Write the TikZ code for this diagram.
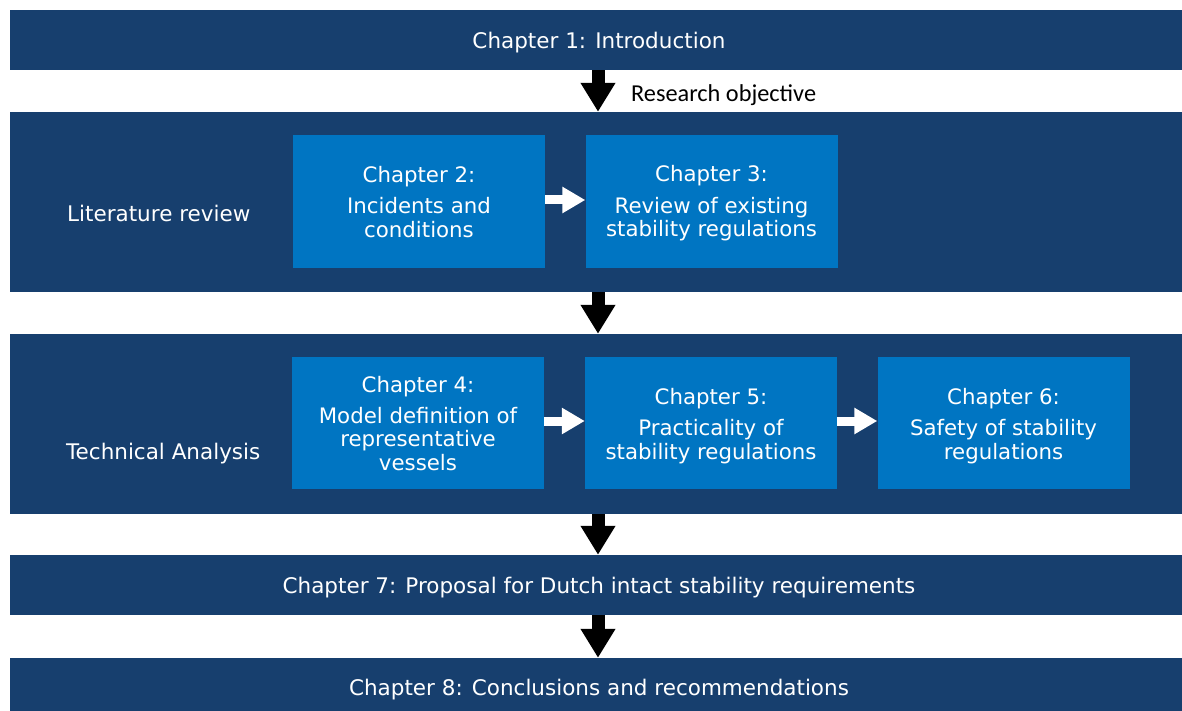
\documentclass[tikz,border=0pt]{standalone}
\usepackage{fontspec}
\setmainfont{DejaVu Sans}
\newfontfamily\calibrifont{Carlito}
\usetikzlibrary{arrows.meta}
\definecolor{banddark}{HTML}{173F6E}
\definecolor{boxblue}{HTML}{0075C2}
\begin{document}
\begin{tikzpicture}[x=1pt,y=-1pt,
  band/.style={fill=banddark, draw=none, minimum width=1172pt, inner sep=0pt,
    text=white, font=\fontsize{21.5}{24}\selectfont},
  chapbox/.style={fill=boxblue, draw=none, minimum width=252pt, minimum height=133pt,
    inner sep=0pt, text=white, align=center, font=\fontsize{21.3}{23.5}\selectfont},
  chaptext/.style={inner sep=0pt, text=white, align=center, font=\fontsize{21.3}{23.5}\selectfont},
  sidelabel/.style={anchor=west, inner sep=0pt, text=white, font=\fontsize{21.5}{24}\selectfont},
  downarrow/.style={line width=13pt, -{Triangle[width=33pt,length=29pt]}, black},
  rightarrow/.style={line width=9pt, -{Triangle[width=25pt,length=23pt]}, white}]
\useasboundingbox (0,0) rectangle (1182,711);
\fill[white] (0,0) rectangle (1182,711);

% horizontal bands
\node[band, minimum height=60pt] (b1) at (596,40) {};
\node[band, minimum height=180pt] (b2) at (596,202) {};
\node[band, minimum height=180pt] (b3) at (596,424) {};
\node[band, minimum height=60pt] (b4) at (596,585) {};
\node[band, minimum height=53pt] (b5) at (596,684.5) {};

% band titles
\node[band, fill=none, minimum width=0pt] (t1) at (599,42.5) {Chapter 1: Introduction};
\node[band, fill=none, minimum width=0pt] (t4) at (599,587.5) {Chapter 7: Proposal for Dutch intact stability requirements};
\node[band, fill=none, minimum width=0pt] (t5) at (599,690) {Chapter 8: Conclusions and recommendations};

\node[sidelabel] (lit) at (67,213) {Literature review};
\node[sidelabel] (tech) at (66,453.5) {Technical Analysis};

% chapter boxes
\node[chapbox] (c2) at (419,201.5) {};
\node[chapbox] (c3) at (711.5,201.5) {};
\node[chapbox, minimum height=132pt] (c4) at (418,423) {};
\node[chapbox, minimum height=132pt] (c5) at (711,423) {};
\node[chapbox, minimum height=132pt] (c6) at (1003.5,423) {};

% chapter box texts
\node[chaptext] (c2t) at ([yshift=-0.5pt]c2.center) {Chapter 2:\\[8pt]Incidents and\\conditions};
\node[chaptext] (c3t) at ([yshift=-2pt]c3.center) {Chapter 3:\\[8pt]Review of existing\\stability regulations};
\node[chaptext] (c4t) at ([yshift=-0.5pt]c4.center) {Chapter 4:\\[7pt]Model definition of\\representative\\vessels};
\node[chaptext] (c5t) at ([yshift=-3pt]c5.center) {Chapter 5:\\[8pt]Practicality of\\stability regulations};
\node[chaptext] (c6t) at ([yshift=-3pt]c6.center) {Chapter 6:\\[8pt]Safety of stability\\regulations};

% flow between bands
\coordinate (ax) at (598,0);
\draw[downarrow] (b1.south -| ax) -- (b2.north -| ax);
\draw[downarrow] (b2.south -| ax) -- (b3.north -| ax);
\draw[downarrow] (b3.south -| ax) -- (b4.north -| ax);
\draw[downarrow] (b4.south -| ax) -- (b5.north -| ax);

\node[anchor=west, inner sep=0pt, font=\calibrifont\fontsize{24.3}{27}\selectfont] (ro) at (631,95) {Research objective};

% flow between chapter boxes
\draw[rightarrow] (c2.east |- 0,200) -- (c3.west |- 0,200);
\draw[rightarrow] (c4.east |- 0,421) -- (c5.west |- 0,421);
\draw[rightarrow] (c5.east |- 0,421) -- (c6.west |- 0,421);
\end{tikzpicture}
\end{document}
